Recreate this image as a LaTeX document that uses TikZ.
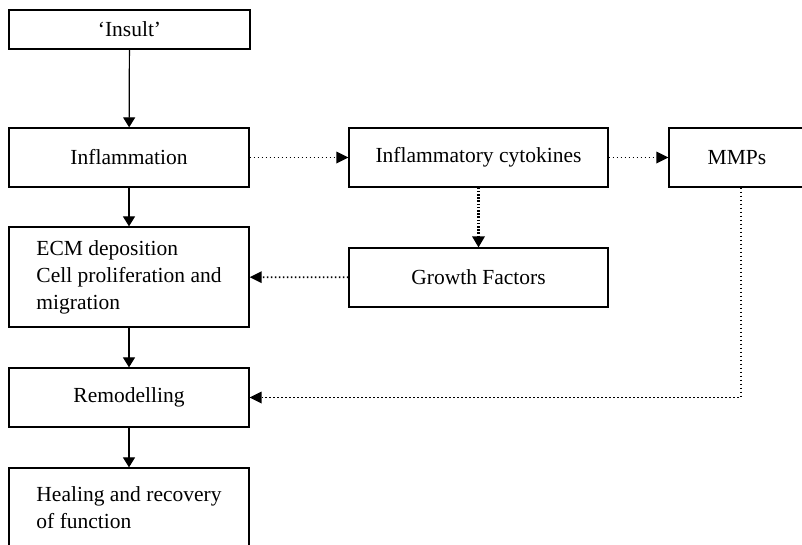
\documentclass[tikz,border=0pt]{standalone}
\usepackage{fontspec}
\setmainfont{Liberation Serif}
\usetikzlibrary{arrows.meta,calc,positioning}
\tikzset{
  stage/.style={draw,line width=1.3pt,minimum width=240pt,minimum height=59pt,
    align=left,inner sep=0pt,font=\fontsize{21.5}{27}\selectfont},
  solidarrow/.style={line width=1.2pt,-{Triangle[length=10pt,width=12pt]}},
  dotarrow/.style={line width=1.7pt,dash pattern=on 1.6pt off 2.4pt,-{Triangle[length=12pt,width=12pt,line width=0pt]}},
  thickdot/.style={line width=2.6pt,dash pattern=on 1.6pt off 1.6pt,-{Triangle[length=11pt,width=13pt,line width=0pt]}}
}

\begin{document}
\begin{tikzpicture}[x=1pt,y=-1pt]
  \useasboundingbox (0,0) rectangle (802,544);
  % draw main chain on the left
  \node[stage,minimum width=241pt,minimum height=39pt] (insult) at (129.5,29.5) {`Insult'};
  \node[stage] (inflam) at (129,157.5) {Inflammation};
  \node[stage,minimum height=100pt] (ecm) at (129,277) {ECM deposition\\Cell proliferation and\\migration};
  \node[stage] (remod) at (129,397.5) {Remodelling};
  \node[stage,minimum height=80pt] (heal) at (129,508) {Healing and recovery\\of function};
  % draw mediators on the right
  \node[stage,minimum width=259pt] (cyto) at (478.5,157.5) {Inflammatory cytokines};
  \node[stage,minimum width=259pt] (growth) at (478.5,277.5) {Growth Factors};
  \node[stage,minimum width=136pt] (mmp) at (737,157.5) {MMPs};
  % solid arrows down the chain
  \draw[solidarrow] (insult) -- (inflam);
  \draw[solidarrow] (inflam) -- (ecm);
  \draw[solidarrow] (ecm) -- (remod);
  \draw[solidarrow] (remod) -- (heal);
  % dotted arrows from the mediators
  \draw[dotarrow] (inflam) -- (cyto);
  \draw[dotarrow] (cyto) -- (mmp);
  \draw[thickdot] (cyto) -- (growth);
  \draw[dotarrow] (growth) -- (ecm);
  \draw[dotarrow] ([xshift=4pt]mmp.south) |- (remod);
\end{tikzpicture}
\end{document}
